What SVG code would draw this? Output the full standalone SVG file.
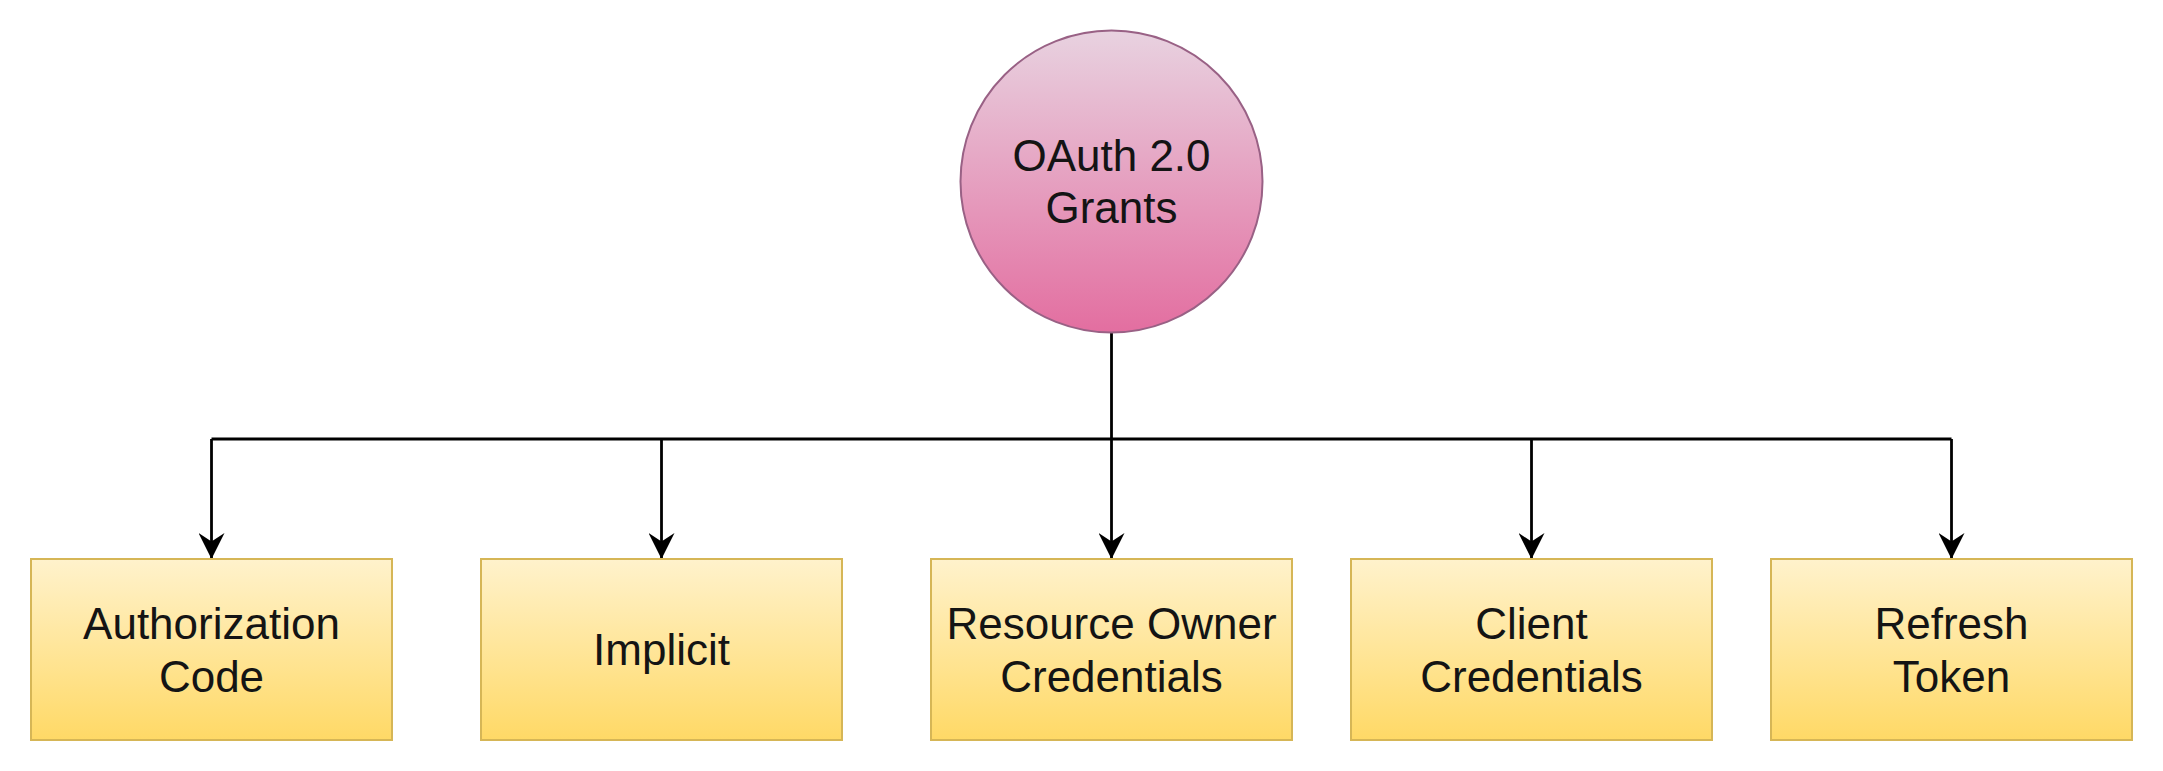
<svg xmlns="http://www.w3.org/2000/svg" width="2163" height="771" viewBox="0 0 2163 771">
<defs>
<linearGradient id="gY" x1="0" y1="0" x2="0" y2="1"><stop offset="0" stop-color="#fff2cc"/><stop offset="1" stop-color="#ffd966"/></linearGradient>
<linearGradient id="gP" x1="0" y1="0" x2="0" y2="1"><stop offset="0" stop-color="#e8d2e0"/><stop offset="1" stop-color="#e36ea0"/></linearGradient>
<marker id="arr" markerUnits="userSpaceOnUse" viewBox="0 0 26 26" refX="26" refY="13" markerWidth="26" markerHeight="26" orient="auto"><path d="M26,13 L0,0 L8.5,13 L0,26 Z" fill="#000"/></marker>
<style>
.box{fill:url(#gY);stroke:#d6b656;stroke-width:2}
.circ{fill:url(#gP);stroke:#996185;stroke-width:2}
.t{font-family:"Liberation Sans",Arial,sans-serif;font-size:44px;fill:#141414;text-anchor:middle}
.ln{fill:none;stroke:#000;stroke-width:2.8}
</style>
</defs>
<rect width="2163" height="771" fill="#fff"/>
<g id="connectors">
<path class="ln" d="M1111.5,332 V439"/>
<path class="ln" d="M211.5,439 H1951.5"/>
<path class="ln" d="M211.5,439 V559" marker-end="url(#arr)"/>
<path class="ln" d="M661.5,439 V559" marker-end="url(#arr)"/>
<path class="ln" d="M1111.5,439 V559" marker-end="url(#arr)"/>
<path class="ln" d="M1531.5,439 V559" marker-end="url(#arr)"/>
<path class="ln" d="M1951.5,439 V559" marker-end="url(#arr)"/>
</g>
<g id="root">
<circle class="circ" cx="1111.5" cy="181.5" r="151"/>
<text class="t" x="1111.5" y="171">OAuth 2.0</text>
<text class="t" x="1111.5" y="223">Grants</text>
</g>
<g id="authcode">
<rect class="box" x="31" y="559" width="361" height="181"/>
<text class="t" x="211.5" y="638.5">Authorization</text>
<text class="t" x="211.5" y="691.5">Code</text>
</g>
<g id="implicit">
<rect class="box" x="481" y="559" width="361" height="181"/>
<text class="t" x="661.5" y="665">Implicit</text>
</g>
<g id="ropc">
<rect class="box" x="931" y="559" width="361" height="181"/>
<text class="t" x="1111.5" y="638.5">Resource Owner</text>
<text class="t" x="1111.5" y="691.5">Credentials</text>
</g>
<g id="client">
<rect class="box" x="1351" y="559" width="361" height="181"/>
<text class="t" x="1531.5" y="638.5">Client</text>
<text class="t" x="1531.5" y="691.5">Credentials</text>
</g>
<g id="refresh">
<rect class="box" x="1771" y="559" width="361" height="181"/>
<text class="t" x="1951.5" y="638.5">Refresh</text>
<text class="t" x="1951.5" y="691.5">Token</text>
</g>
</svg>
